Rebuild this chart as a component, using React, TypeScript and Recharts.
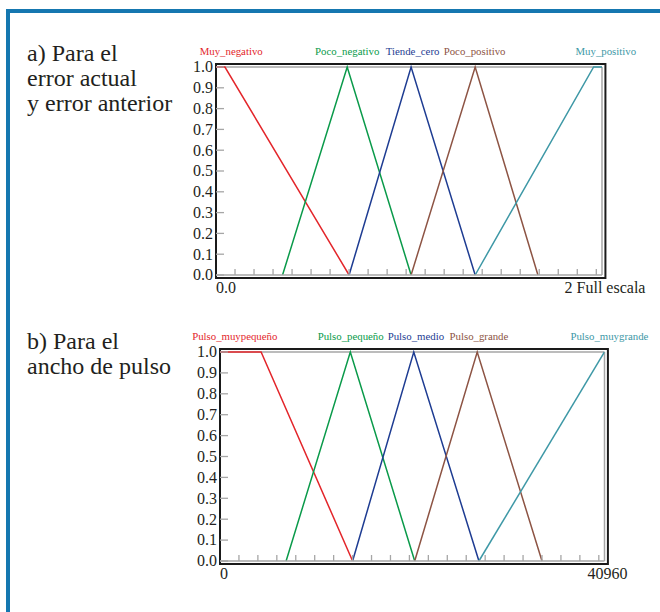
import React from "react";
import { LineChart, Line, XAxis, YAxis, ReferenceLine, ReferenceArea } from "recharts";

// x positions are expressed in axis divisions (the small tick marks); the plot spans 0 .. 20.3
const X_FULL = 20.3;
const xMinorTicks = [1, 2, 3, 4, 5, 6, 7, 8, 9, 10, 11, 12, 13, 14, 15, 16, 17, 18, 19, 20];
const yTicks = [0, 0.1, 0.2, 0.3, 0.4, 0.5, 0.6, 0.7, 0.8, 0.9, 1.0];
const yTickLabels = ["0.0", "0.1", "0.2", "0.3", "0.4", "0.5", "0.6", "0.7", "0.8", "0.9", "1.0"];

// a) error
const errorNames = ["Muy_negativo", "Poco_negativo", "Tiende_cero", "Poco_positivo", "Muy_positivo"];
const errorLabelX = [0.8, 6.9, 10.34, 13.6, 20.5];
const errorEndLabels = ["0.0", "2 Full escala"];
const muyNegativo = [{ x: 0, y: 1 }, { x: 0.47, y: 1 }, { x: 7.0, y: 0 }];
const pocoNegativo = [{ x: 3.5, y: 0 }, { x: 6.9, y: 1 }, { x: 10.26, y: 0 }];
const tiendeCero = [{ x: 7.0, y: 0 }, { x: 10.26, y: 1 }, { x: 13.63, y: 0 }];
const pocoPositivo = [{ x: 10.26, y: 0 }, { x: 13.63, y: 1 }, { x: 16.93, y: 0 }];
const muyPositivo = [{ x: 13.63, y: 0 }, { x: 19.86, y: 1 }, { x: 20.3, y: 1 }];

// b) pulse width
const pulseNames = ["Pulso_muypequeño", "Pulso_pequeño", "Pulso_medio", "Pulso_grande", "Pulso_muygrande"];
const pulseLabelX = [0.78, 6.9, 10.34, 13.67, 20.56];
const pulseEndLabels = ["0", "40960"];
const pulsoMuyPequeno = [{ x: 0, y: 1 }, { x: 2.17, y: 1 }, { x: 7.0, y: 0 }];
const pulsoPequeno = [{ x: 3.49, y: 0 }, { x: 6.88, y: 1 }, { x: 10.28, y: 0 }];
const pulsoMedio = [{ x: 7.0, y: 0 }, { x: 10.23, y: 1 }, { x: 13.67, y: 0 }];
const pulsoGrande = [{ x: 10.28, y: 0 }, { x: 13.58, y: 1 }, { x: 17.0, y: 0 }];
const pulsoMuyGrande = [{ x: 13.67, y: 0 }, { x: 20.3, y: 1 }];

const seriesColors = ["#e3262b", "#0a9a4a", "#1e3c92", "#8d5444", "#3e98a6"];
const FONT = "'Liberation Serif', 'Times New Roman', serif";
const GREY = "#a6a6a6";

type Pt = { x: number; y: number };

function FuzzyChart(props: {
  top: number;
  height: number;
  margin: { top: number; right: number; bottom: number; left: number };
  series: Pt[][];
  names: string[];
  labelX: number[];
  endLabels: string[];
}) {
  const { top, height, margin, series, names, labelX, endLabels } = props;
  const xTicks = [0, ...xMinorTicks, X_FULL];

  const topTick = (p: any) => {
    const i = labelX.indexOf(p.payload.value);
    return (
      <text x={p.x} y={p.y - 12.4} textAnchor="middle" fontFamily={FONT} fontSize={10.8} fill={seriesColors[i]}>
        {names[i]}
      </text>
    );
  };
  const bottomTick = (p: any) => {
    const v = p.payload.value;
    if (v === 0) {
      return (
        <text x={p.x} y={p.y + 18} textAnchor="start" fontFamily={FONT} fontSize={16} fill="#231f20">
          {endLabels[0]}
        </text>
      );
    }
    if (v === X_FULL) {
      return (
        <text x={p.x + 3} y={p.y + 18} textAnchor="middle" fontFamily={FONT} fontSize={16} fill="#231f20">
          {endLabels[1]}
        </text>
      );
    }
    return <line x1={p.x} x2={p.x} y1={p.y} y2={p.y - 6} stroke={GREY} strokeWidth={1.3} />;
  };
  const yTick = (p: any) => {
    const i = yTicks.indexOf(p.payload.value);
    return (
      <g>
        <line x1={p.x + 3} x2={p.x + 11} y1={p.y} y2={p.y} stroke={GREY} strokeWidth={1.3} />
        <text x={p.x} y={p.y + 5.3} textAnchor="end" fontFamily={FONT} fontSize={16} fill="#231f20">
          {yTickLabels[i]}
        </text>
      </g>
    );
  };

  return (
    <div style={{ position: "absolute", left: 0, top, width: 660, height }}>
      <LineChart width={660} height={height} margin={margin}>
        <XAxis
          xAxisId="top"
          orientation="top"
          type="number"
          dataKey="x"
          domain={[0, X_FULL]}
          ticks={labelX}
          interval={0}
          allowDataOverflow
          axisLine={false}
          tickLine={false}
          tickSize={0}
          tickMargin={0}
          height={30}
          tick={topTick}
        />
        <XAxis
          type="number"
          dataKey="x"
          domain={[0, X_FULL]}
          ticks={xTicks}
          interval={0}
          allowDataOverflow
          axisLine={{ stroke: GREY, strokeWidth: 1.5 }}
          tickLine={false}
          tickSize={0}
          tickMargin={0}
          height={30}
          tick={bottomTick}
        />
        <YAxis
          type="number"
          domain={[0, 1]}
          ticks={yTicks}
          interval={0}
          width={40}
          axisLine={false}
          tickLine={false}
          tickSize={0}
          tickMargin={3}
          tick={yTick}
        />
        <ReferenceLine y={1} stroke={GREY} strokeWidth={1.5} />
        <ReferenceLine x={X_FULL} stroke={GREY} strokeWidth={1.5} />
        <ReferenceArea
          x1={0}
          x2={X_FULL + 0.18}
          y1={-0.0144}
          y2={1.0144}
          fill="none"
          fillOpacity={0}
          stroke="#1a1a1a"
          strokeWidth={2}
          strokeOpacity={1}
          ifOverflow="visible"
        />
        {series.map((d, i) => (
          <Line
            key={names[i]}
            data={d}
            dataKey="y"
            type="linear"
            stroke={seriesColors[i]}
            strokeWidth={1.5}
            dot={false}
            activeDot={false}
            isAnimationActive={false}
          />
        ))}
      </LineChart>
    </div>
  );
}

const textStyle: React.CSSProperties = {
  position: "absolute",
  left: 27,
  fontFamily: FONT,
  fontSize: 24,
  lineHeight: "25px",
  color: "#231f20",
  whiteSpace: "nowrap",
  margin: 0,
};

export default function App() {
  return (
    <div style={{ position: "absolute", left: 0, top: 0, width: 660, height: 612, background: "#fff", overflow: "hidden" }}>
      <div style={{ position: "absolute", left: 6, top: 9, width: 4, height: 603, background: "#1577b0" }} />
      <div style={{ position: "absolute", left: 6, top: 9, width: 654, height: 4, background: "#1577b0" }} />
      <div style={{ ...textStyle, top: 41.4 }}>
        a) Para el
        <br />
        error actual
        <br />
        y error anterior
      </div>
      <div style={{ ...textStyle, top: 329.4 }}>
        b) Para el
        <br />
        ancho de pulso
      </div>
      <FuzzyChart
        top={0}
        height={310}
        margin={{ top: 37, right: 58, bottom: 5, left: 176 }}
        series={[muyNegativo, pocoNegativo, tiendeCero, pocoPositivo, muyPositivo]}
        names={errorNames}
        labelX={errorLabelX}
        endLabels={errorEndLabels}
      />
      <FuzzyChart
        top={290}
        height={310}
        margin={{ top: 32, right: 55.5, bottom: 9, left: 180 }}
        series={[pulsoMuyPequeno, pulsoPequeno, pulsoMedio, pulsoGrande, pulsoMuyGrande]}
        names={pulseNames}
        labelX={pulseLabelX}
        endLabels={pulseEndLabels}
      />
    </div>
  );
}
